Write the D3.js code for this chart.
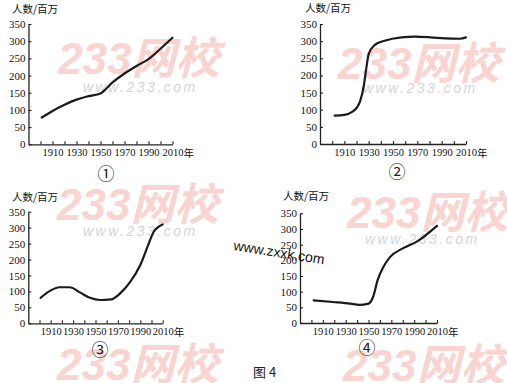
<!DOCTYPE html>
<html>
<head>
<meta charset="utf-8">
<script src="https://cdn.jsdelivr.net/npm/d3@7"></script>
<style>
  body { margin: 0; background: #fff; }
  svg { display: block; }
</style>
</head>
<body>
<script>
// values (population, millions)
var years1 = [1901, 1910, 1920, 1930, 1940, 1950, 1960, 1970, 1980, 1990, 2000, 2010];
var values1 = [78, 97, 115, 130, 140, 148, 180, 206, 228, 248, 278, 310];

var years2 = [1902, 1910, 1916, 1920, 1923, 1926, 1928, 1930, 1935, 1943, 1957, 1968, 1981, 1993, 2005, 2010];
var values2 = [83, 85, 93, 105, 125, 170, 220, 262, 289, 301, 311, 313, 311, 308, 307, 311];

var years3 = [1901, 1909, 1918, 1927, 1936, 1945, 1954, 1964, 1972, 1981, 1990, 1997, 2002, 2010];
var values3 = [80, 101, 113, 113, 97, 80, 73, 75, 94, 130, 183, 245, 287, 310];

var years4 = [1902, 1919, 1934, 1942, 1950, 1954, 1958, 1963, 1969, 1980, 1992, 2010];
var values4 = [72, 67, 62, 58, 62, 83, 137, 179, 211, 238, 259, 310];

var yTicks = [0, 50, 100, 150, 200, 250, 300, 350];
var xTicks = [1900, 1910, 1920, 1930, 1940, 1950, 1960, 1970, 1980, 1990, 2000, 2010];
var xLabels = [1910, 1930, 1950, 1970, 1990, 2010];
var panelMarks = ["①", "②", "③", "④"];
var yTitle = "人数/百万";
var xUnit = "年";
var figTitle = "图 4";

// where each panel sits on the page
var panels = [
  {years: years1, values: values1, x0: 28.5, x1: 172.5, y0: 144.3, y1: 24, tx: 12, ty: 13, mx: 106, my: 172},
  {years: years2, values: values2, x0: 320, x1: 466, y0: 144, y1: 24, tx: 305, ty: 12, mx: 397, my: 170},
  {years: years3, values: values3, x0: 28.3, x1: 162.7, y0: 323.3, y1: 211.7, tx: 12, ty: 201, mx: 100, my: 348},
  {years: years4, values: values4, x0: 300, x1: 437, y0: 323, y1: 213.3, tx: 283, ty: 200, mx: 367, my: 346}
];

var serif = "'Liberation Serif', 'Times New Roman', serif";
var cjk = "'Noto Sans CJK SC', 'Noto Sans', sans-serif";

var svg = d3.select("body").append("svg")
    .attr("width", 507)
    .attr("height", 383);

// pale site watermarks behind the charts
var marks = [
  {x: 58, y: 74, wx: 83, wy: 92},
  {x: 338, y: 79, wx: 363, wy: 93},
  {x: 57, y: 220, wx: 83, wy: 236},
  {x: 347, y: 228, wx: 365, wy: 244},
  {x: 57, y: 380},
  {x: 343, y: 381}
];
var wm = svg.append("g");
marks.forEach(function(m){
  wm.append("text")
      .attr("x", m.x).attr("y", m.y)
      .style("font-family", "'Liberation Sans', Arial, " + cjk)
      .style("font-size", "44px")
      .style("font-weight", "bold")
      .style("font-style", "italic")
      .attr("fill", "#f9d4d0")
      .text("233网校");
  if (m.wx) {
    wm.append("text")
        .attr("x", m.wx).attr("y", m.wy)
        .style("font-family", "'Liberation Sans', Arial, sans-serif")
        .style("font-size", "14px")
        .style("font-style", "italic")
        .attr("letter-spacing", 2.5)
        .attr("fill", "#d3d3da")
        .text("www.233.com");
  }
});

function drawPanel(p, i){
  var x = d3.scaleLinear().domain([1890, 2010]).range([p.x0, p.x1]);
  var y = d3.scaleLinear().domain([0, 350]).range([p.y0, p.y1]);
  var g = svg.append("g");

  var xAxis = g.append("g")
      .attr("transform", "translate(0," + p.y0 + ")")
      .call(d3.axisBottom(x).tickValues(xTicks).tickSize(-3).tickSizeOuter(0)
        .tickFormat(function(d){ return xLabels.indexOf(d) >= 0 ? d : ""; }));
  xAxis.selectAll("text")
      .attr("y", 4)
      .attr("dy", "0.75em")
      .style("font-family", serif)
      .style("font-size", "10.5px")
      .attr("fill", "#111");

  var yAxis = g.append("g")
      .attr("transform", "translate(" + p.x0 + ",0)")
      .call(d3.axisLeft(y).tickValues(yTicks).tickSize(-3).tickSizeOuter(0));
  yAxis.selectAll("text")
      .attr("x", -3)
      .style("font-family", serif)
      .style("font-size", "11px")
      .attr("fill", "#111");

  g.selectAll(".domain").attr("stroke", "#222").attr("stroke-width", 1.3);
  g.selectAll(".tick line").attr("stroke", "#222").attr("stroke-width", 1.1);

  g.append("text")
      .attr("x", x(2010) + 11)
      .attr("y", p.y0 + 13)
      .style("font-family", cjk)
      .style("font-size", "10.5px")
      .attr("fill", "#111")
      .text(xUnit);

  g.append("text")
      .attr("x", p.tx)
      .attr("y", p.ty)
      .style("font-family", cjk)
      .style("font-size", "10.5px")
      .attr("fill", "#111")
      .text(yTitle);

  var pts = p.years.map(function(d, k){ return [d, p.values[k]]; });
  var line = d3.line()
      .x(function(d){ return x(d[0]); })
      .y(function(d){ return y(d[1]); })
      .curve(d3.curveMonotoneX);
  g.append("path")
      .datum(pts)
      .attr("d", line)
      .attr("fill", "none")
      .attr("stroke", "#1a1a1a")
      .attr("stroke-width", 2.2)
      .attr("stroke-linecap", "round");

  g.append("text")
      .attr("x", p.mx)
      .attr("y", p.my)
      .attr("text-anchor", "middle")
      .attr("dominant-baseline", "central")
      .style("font-family", cjk)
      .style("font-size", "17px")
      .attr("fill", "#222")
      .text(panelMarks[i]);
}

panels.forEach(drawPanel);

svg.append("text")
    .attr("x", 253)
    .attr("y", 377)
    .style("font-family", cjk)
    .style("font-size", "13px")
    .attr("fill", "#222")
    .text(figTitle);

svg.append("text")
    .attr("transform", "translate(233,250) rotate(9)")
    .style("font-family", "'Liberation Sans', Arial, sans-serif")
    .style("font-size", "14px")
    .attr("fill", "#111")
    .text("www.zxxk.com");
</script>
</body>
</html>
